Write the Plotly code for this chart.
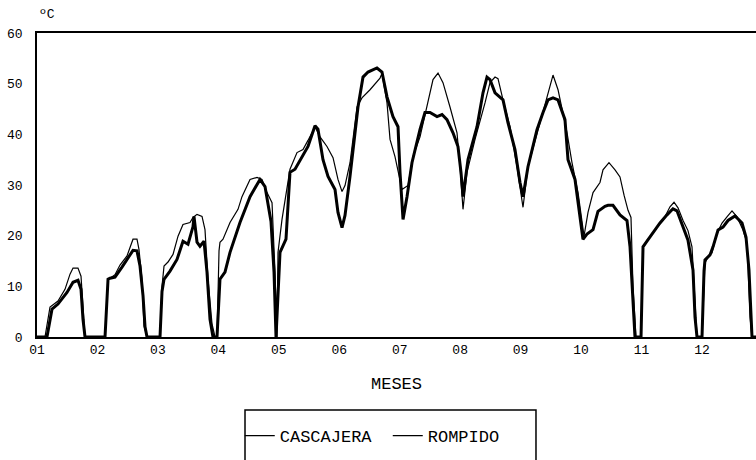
import plotly.graph_objects as go

# Month tick labels (x axis in month units, 0 = start of month 01)
month_ticks = ["01", "02", "03", "04", "05", "06", "07", "08", "09", "10", "11", "12"]
y_ticks = [0, 10, 20, 30, 40, 50, 60]

# ROMPIDO (thin line), temperature in ºC
rom_x = ([0, 0.132, 0.215, 0.347, 0.463, 0.546, 0.596, 0.678, 0.728, 0.761, 0.794]
         + [1.125, 1.175, 1.208, 1.290, 1.373, 1.489, 1.588, 1.654, 1.687, 1.737, 1.770, 1.820]
         + [2.035, 2.068, 2.101, 2.167, 2.250, 2.333, 2.415, 2.531, 2.581, 2.647, 2.730, 2.779, 2.829, 2.895, 2.945]
         + [2.978, 3.011, 3.027, 3.077, 3.193, 3.325, 3.391, 3.524, 3.639, 3.722, 3.805, 3.888, 3.937, 3.970]
         + [3.987, 4.053, 4.185, 4.301, 4.400, 4.483, 4.599, 4.682, 4.797, 4.897,
            4.979, 5.046, 5.095, 5.178, 5.294, 5.376, 5.509, 5.674, 5.707, 5.790,
            5.840, 5.922, 6.038, 6.137, 6.220, 6.336, 6.452, 6.551, 6.634, 6.716,
            6.832, 6.948, 6.998, 7.047, 7.113, 7.246, 7.411, 7.494, 7.577, 7.626,
            7.709, 7.825, 7.940, 8.040, 8.122, 8.271, 8.371, 8.453, 8.536, 8.619,
            8.768, 8.850, 8.950, 9.049, 9.115, 9.198, 9.313, 9.363, 9.462, 9.562,
            9.644, 9.711, 9.777, 9.826, 9.859, 9.909]
         + [9.992, 10.025, 10.091, 10.223, 10.256, 10.356, 10.471, 10.538, 10.604, 10.687, 10.769, 10.835, 10.885, 10.918]
         + [11.001, 11.050, 11.100, 11.166, 11.249, 11.332, 11.414, 11.497, 11.580, 11.679, 11.745, 11.795, 11.828, 11.894])
rom_y = ([0, 0, 5.9, 7.1, 9.4, 12.4, 13.6, 13.6, 12.0, 4.9, 0]
         + [0, 11.4, 11.6, 12.3, 14.2, 16.0, 19.3, 19.3, 17.3, 11.4, 2.2, 0]
         + [0, 10.0, 14.0, 14.8, 16.3, 19.9, 22.2, 22.6, 23.6, 24.2, 23.8, 21.2, 11.4, 2.6, 0]
         + [0, 17.0, 18.7, 19.3, 22.6, 25.2, 27.7, 31.1, 31.5, 31.1, 28.5, 26.5, 12.8, 0]
         + [16.7, 23.2, 33.1, 36.4, 37.0, 38.8, 41.5, 39.5, 37.6, 35.4,
            31.1, 28.7, 29.9, 34.4, 45.4, 47.2, 48.8, 51.1, 52.0, 46.2,
            39.0, 35.6, 29.1, 29.9, 35.6, 39.5, 45.4, 50.8, 52.1, 50.2,
            45.4, 40.3, 33.6, 25.2, 32.5, 39.0, 46.2, 50.2, 51.3, 51.0,
            46.8, 41.5, 33.6, 25.6, 33.6, 40.3, 44.3, 48.2, 51.7, 48.8,
            40.3, 34.4, 28.5, 19.9, 24.6, 28.5, 30.5, 33.0, 34.4, 33.0,
            31.6, 28.0, 25.0, 23.6, 9.9, 0]
         + [0, 17.8, 19.1, 21.1, 21.7, 23.0, 25.7, 26.6, 25.5, 23.0, 21.0, 17.8, 6.7, 0]
         + [0, 14.6, 15.8, 16.6, 20.5, 22.5, 23.7, 24.9, 23.7, 21.1, 18.5, 3.9, 0, 0])

# CASCAJERA (thick line), temperature in ºC
cas_x = ([0, 0.165, 0.248, 0.347, 0.496, 0.596, 0.678, 0.728, 0.761, 0.794]
         + [1.125, 1.175, 1.208, 1.290, 1.406, 1.505, 1.588, 1.654, 1.704, 1.754, 1.787, 1.820]
         + [2.035, 2.068, 2.101, 2.200, 2.316, 2.415, 2.498, 2.581, 2.597, 2.647, 2.696, 2.763, 2.812, 2.862, 2.911]
         + [2.978, 3.011, 3.027, 3.110, 3.193, 3.358, 3.524, 3.689, 3.772, 3.871, 3.921, 3.954]
         + [4.020, 4.119, 4.185, 4.268, 4.384, 4.483, 4.599, 4.648, 4.731, 4.814,
            4.930, 4.979, 5.046, 5.095, 5.178, 5.261, 5.310, 5.393, 5.476, 5.624,
            5.707, 5.790, 5.889, 5.972, 6.005, 6.055, 6.121, 6.203, 6.336, 6.418,
            6.501, 6.617, 6.700, 6.782, 6.882, 6.964, 7.014, 7.047, 7.130, 7.279,
            7.378, 7.444, 7.494, 7.577, 7.659, 7.709, 7.791, 7.907, 7.990, 8.040,
            8.122, 8.271, 8.371, 8.453, 8.536, 8.619, 8.734, 8.784, 8.900, 8.983,
            9.032, 9.098, 9.198, 9.280, 9.396, 9.446, 9.528, 9.644, 9.760, 9.810,
            9.859, 9.892]
         + [9.992, 10.025, 10.091, 10.306, 10.422, 10.521, 10.587, 10.687, 10.769, 10.852, 10.885, 10.918]
         + [11.001, 11.034, 11.050, 11.133, 11.183, 11.266, 11.348, 11.431, 11.547, 11.663, 11.729, 11.778, 11.828, 11.894])
cas_y = ([0, 0, 5.5, 6.5, 8.8, 10.8, 11.2, 9.4, 3.5, 0]
         + [0, 11.4, 11.6, 11.8, 13.8, 15.7, 17.1, 17.0, 14.0, 8.1, 2.0, 0]
         + [0, 9.0, 11.4, 13.0, 15.3, 18.9, 18.3, 21.8, 23.8, 18.7, 17.9, 18.9, 12.8, 3.5, 0]
         + [0, 9.0, 11.4, 12.8, 16.7, 22.6, 27.7, 31.1, 29.7, 22.8, 12.8, 0]
         + [16.7, 19.3, 32.5, 33.1, 35.4, 37.6, 41.7, 41.0, 35.0, 31.7,
            29.1, 24.6, 21.6, 24.0, 31.7, 40.3, 45.4, 51.3, 52.3, 53.1,
            52.3, 47.4, 43.5, 41.5, 32.5, 23.2, 27.7, 34.4, 41.0, 44.3,
            44.3, 43.5, 43.9, 42.9, 40.3, 37.6, 32.5, 27.7, 35.0, 41.5,
            48.2, 51.3, 50.8, 48.2, 47.2, 46.8, 42.3, 37.0, 30.5, 27.7,
            33.6, 40.9, 44.3, 46.8, 47.2, 46.8, 42.9, 35.0, 31.1, 23.8,
            19.3, 20.3, 21.2, 24.8, 25.8, 26.0, 26.0, 24.1, 23.0, 17.8,
            6.7, 0]
         + [0, 17.8, 18.9, 22.5, 24.1, 25.3, 24.9, 21.7, 19.1, 13.2, 3.9, 0]
         + [0, 13.0, 15.2, 16.2, 17.8, 21.1, 21.7, 23.0, 23.9, 22.5, 19.7, 13.2, 0, 0])

assert len(rom_x) == len(rom_y) and len(cas_x) == len(cas_y)

FONT = "Liberation Mono"

fig = go.Figure()
fig.add_trace(go.Scatter(x=rom_x, y=rom_y, mode="lines", name="ROMPIDO",
                         line=dict(color="black", width=1.2), showlegend=False))
fig.add_trace(go.Scatter(x=cas_x, y=cas_y, mode="lines", name="CASCAJERA",
                         line=dict(color="black", width=3), showlegend=False))
# legend entries (thin samples as in the reference legend)
fig.add_trace(go.Scatter(x=[None], y=[None], mode="lines", name="CASCAJERA",
                         line=dict(color="black", width=1.2)))
fig.add_trace(go.Scatter(x=[None], y=[None], mode="lines", name="ROMPIDO",
                         line=dict(color="black", width=1.2)))

fig.update_layout(
    width=756, height=460, autosize=False,
    margin=dict(l=37, r=0, t=33, b=123, autoexpand=False),
    paper_bgcolor="white", plot_bgcolor="white",
    font=dict(family=FONT, color="black", size=13),
    xaxis=dict(range=[0, 11.894], tickvals=list(range(12)), ticktext=month_ticks,
               showline=True, mirror=True, linecolor="black", linewidth=1.5,
               showgrid=False, zeroline=False, ticks="", automargin=False,
               tickfont=dict(family=FONT, size=13, color="black"),
               title=dict(text="MESES", font=dict(family=FONT, size=17, color="black"), standoff=20)),
    yaxis=dict(range=[0, 60], tickvals=y_ticks, showline=True, linecolor="black", linewidth=1.5,
               showgrid=False, zeroline=False, ticks="", ticklabelstandoff=10, automargin=False,
               tickfont=dict(family=FONT, size=13, color="black")),
    legend=dict(orientation="h", x=0.282, xanchor="left", y=-0.326, yanchor="middle",
                font=dict(family=FONT, size=17, color="black"),
                bgcolor="rgba(0,0,0,0)", borderwidth=0, itemwidth=30,
                entrywidth=103, entrywidthmode="pixels"),
    annotations=[dict(text="ºC", xref="paper", yref="paper", x=0, y=1.0625,
                      xanchor="left", yanchor="middle", showarrow=False,
                      font=dict(family=FONT, size=13, color="black"))],
    shapes=[dict(type="rect", xref="paper", yref="paper",
                 x0=0.2893, x1=0.694, y0=-0.24, y1=-0.6,
                 line=dict(color="black", width=1.5), fillcolor="rgba(0,0,0,0)")],
)

fig.write_html("out.html", config={"displayModeBar": False},
               post_script="document.body.style.margin='0';")
